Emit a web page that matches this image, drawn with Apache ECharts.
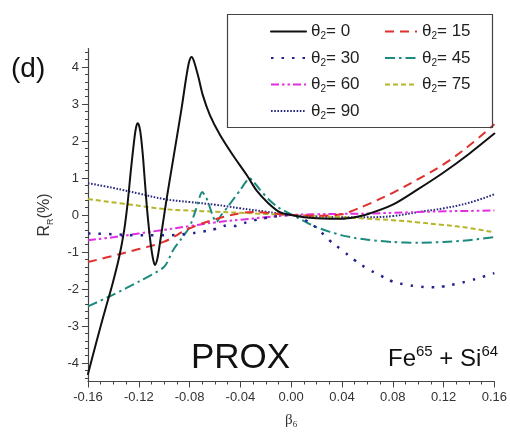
<!DOCTYPE html>
<html>
<head>
<meta charset="utf-8">
<script src="https://cdn.jsdelivr.net/npm/echarts@6/dist/echarts.min.js"></script>
<style>html,body{margin:0;padding:0;background:#fff;}#c{width:510px;height:437px;}</style>
</head>
<body>
<div id="c"></div>
<script>
// ---- data ----
var thetaLabels = ['0', '15', '30', '45', '60', '75', '90'];
var xTicks = [-0.16, -0.12, -0.08, -0.04, 0.00, 0.04, 0.08, 0.12, 0.16];
var yTicks = [-4, -3, -2, -1, 0, 1, 2, 3, 4];

var theta0X = [-0.16,-0.1537,-0.1458,-0.1406,-0.1354,-0.1315,-0.1288,-0.1262,-0.1236,-0.1222,-0.1209,-0.1195,-0.1182,-0.1165,-0.1139,-0.1113,-0.109,-0.1073,-0.1055,-0.1034,-0.0982,-0.093,-0.0865,-0.0825,-0.0803,-0.0784,-0.0765,-0.073,-0.0696,-0.064,-0.056,-0.046,-0.035,-0.027,-0.018,-0.009,0,0.01,0.02,0.03,0.04,0.05,0.06,0.08,0.1,0.12,0.14,0.16];
var theta0Y = [-4.3,-3.47,-2.48,-1.85,-1.13,-0.41,0.32,1.22,2.03,2.36,2.48,2.38,2.1,1.49,0.32,-0.59,-1.15,-1.35,-1.2,-0.77,0.41,1.49,2.84,3.75,4.15,4.27,4.15,3.72,3.24,2.7,2.16,1.62,1.08,0.65,0.32,0.08,0,-0.06,-0.09,-0.1,-0.1,-0.06,0.02,0.28,0.7,1.15,1.65,2.2];

var theta15X = [-0.16,-0.14,-0.12,-0.1,-0.08,-0.06,-0.04,-0.03,-0.02,0,0.02,0.04,0.05,0.06,0.08,0.1,0.12,0.14,0.16];
var theta15Y = [-1.27,-1.1,-0.92,-0.72,-0.36,-0.12,0.05,0.08,0.06,0,-0.02,0.02,0.14,0.28,0.6,0.97,1.37,1.87,2.45];

var theta30X = [-0.16,-0.14,-0.12,-0.1,-0.08,-0.07,-0.06,-0.055,-0.05,-0.045,-0.04,-0.03,-0.02,-0.01,0,0.01,0.02,0.03,0.04,0.05,0.06,0.07,0.08,0.09,0.1,0.11,0.12,0.13,0.14,0.15,0.16];
var theta30Y = [-0.5,-0.52,-0.55,-0.55,-0.5,-0.45,-0.38,-0.32,-0.28,-0.3,-0.25,-0.15,-0.08,-0.03,0,-0.12,-0.35,-0.68,-0.95,-1.22,-1.45,-1.63,-1.8,-1.88,-1.93,-1.95,-1.93,-1.86,-1.78,-1.68,-1.57];

var theta45X = [-0.16,-0.14,-0.12,-0.1,-0.093,-0.086,-0.08,-0.075,-0.07,-0.066,-0.062,-0.059,-0.055,-0.05,-0.045,-0.04,-0.036,-0.033,-0.03,-0.025,-0.017,-0.01,0,0.012,0.02,0.03,0.04,0.05,0.06,0.08,0.1,0.12,0.14,0.16];
var theta45Y = [-2.47,-2.15,-1.8,-1.4,-0.95,-0.62,-0.32,0.15,0.62,0.4,0.0,-0.19,0.0,0.22,0.45,0.68,0.88,1.0,0.92,0.7,0.4,0.2,0.02,-0.2,-0.33,-0.45,-0.55,-0.62,-0.67,-0.73,-0.75,-0.73,-0.68,-0.6];

var theta60X = [-0.16,-0.14,-0.12,-0.1,-0.08,-0.06,-0.04,-0.02,0,0.02,0.04,0.06,0.08,0.1,0.12,0.14,0.16];
var theta60Y = [-0.68,-0.6,-0.5,-0.4,-0.3,-0.2,-0.13,-0.06,0,0.02,0.03,0.04,0.06,0.08,0.1,0.11,0.12];

var theta75X = [-0.16,-0.12,-0.1,-0.08,-0.06,-0.04,-0.02,0,0.02,0.04,0.06,0.08,0.1,0.12,0.14,0.16];
var theta75Y = [0.43,0.25,0.16,0.12,0.09,0.06,0.03,0,-0.03,-0.06,-0.1,-0.14,-0.2,-0.27,-0.35,-0.47];

var theta90X = [-0.16,-0.14,-0.12,-0.1,-0.08,-0.06,-0.04,-0.02,0,0.02,0.04,0.06,0.08,0.1,0.12,0.14,0.16];
var theta90Y = [0.86,0.73,0.58,0.43,0.35,0.28,0.18,0.09,0,-0.04,-0.06,-0.06,-0.03,0.08,0.18,0.33,0.56];

// ---- build ----
function pairs(xs, ys) { return xs.map(function (x, i) { return [x, ys[i]]; }); }
var seriesX = [theta0X, theta15X, theta30X, theta45X, theta60X, theta75X, theta90X];
var seriesY = [theta0Y, theta15Y, theta30Y, theta45Y, theta60Y, theta75Y, theta90Y];
var styles = [
  { color: '#111111', type: 'solid', width: 2, cap: 'round' },
  { color: '#e0302c', type: [9, 6], width: 2, cap: 'butt' },
  { color: '#22228c', type: [2.5, 8], width: 2.5, cap: 'butt' },
  { color: '#1d8a80', type: [10, 4, 2.5, 4], width: 2, cap: 'butt' },
  { color: '#e22ee2', type: [8, 3, 2.5, 3, 2.5, 3], width: 2, cap: 'butt' },
  { color: '#b5b52a', type: [5, 3], width: 2, cap: 'butt' },
  { color: '#2a2a80', type: [1.6, 1.6], width: 2, cap: 'butt' }
];
var smoothness = [0.3, 0.4, 0.4, 0.25, 0.4, 0.4, 0.4];

var series = thetaLabels.map(function (t, i) {
  return {
    name: 'theta' + t,
    type: 'line',
    data: pairs(seriesX[i], seriesY[i]),
    showSymbol: false,
    symbol: 'none',
    smooth: smoothness[i],
    lineStyle: { color: styles[i].color, type: styles[i].type, width: styles[i].width, cap: styles[i].cap, join: 'round' },
    itemStyle: { color: styles[i].color },
    z: 10 - i
  };
});

var yMinor = [];
for (var v = -44; v <= 44; v += 2) { yMinor.push(v / 10); }

function legendFmt(name) {
  return '{t|θ}{s|2}{t|= ' + name.replace('theta', '') + '}';
}
var legendText = {
  color: '#222',
  rich: {
    t: { fontSize: 17, fontFamily: 'Liberation Sans', color: '#222', lineHeight: 20 },
    s: { fontSize: 10, fontFamily: 'Liberation Sans', color: '#222', lineHeight: 20, verticalAlign: 'bottom' }
  }
};
var legendItemStyle = { opacity: 0, color: 'transparent', borderWidth: 0 };

var chart = echarts.init(document.getElementById('c'), null, { renderer: 'canvas' });
chart.setOption({
  animation: false,
  backgroundColor: '#fff',
  grid: { left: 88, right: 14, top: 48.5, bottom: 55.5 },
  xAxis: {
    type: 'value', min: -0.16, max: 0.16, interval: 0.04,
    axisLine: { onZero: false, lineStyle: { color: '#444', width: 1.2 } },
    axisTick: { inside: false, length: 6, lineStyle: { color: '#444' } },
    minorTick: { show: true, splitNumber: 4, length: 3, lineStyle: { color: '#444' } },
    splitLine: { show: false },
    axisLabel: { margin: 9, fontSize: 13, fontFamily: 'Liberation Sans', color: '#333',
      formatter: function (v) { return v.toFixed(2); } },
    name: '{b|β}{s|6}', nameLocation: 'middle', nameGap: 30,
    nameTextStyle: { rich: {
      b: { fontSize: 15, fontFamily: 'Liberation Serif', color: '#333', lineHeight: 18 },
      s: { fontSize: 9, fontFamily: 'Liberation Serif', color: '#333', lineHeight: 18, verticalAlign: 'bottom' }
    } }
  },
  yAxis: [{
    type: 'value', min: -4.5, max: 4.5,
    axisLine: { show: true, onZero: false, lineStyle: { color: '#444', width: 1.2 } },
    axisTick: { show: true, inside: false, length: 6, lineStyle: { color: '#444' }, customValues: yTicks },
    splitLine: { show: false },
    axisLabel: { margin: 9, fontSize: 13, fontFamily: 'Liberation Sans', color: '#333', customValues: yTicks,
      formatter: function (v) { return String(Math.round(v)); } },
    name: '{t|R}{s|R}{t|(%)}', nameLocation: 'middle', nameGap: 33,
    nameTextStyle: { rich: {
      t: { fontSize: 16, fontFamily: 'Liberation Sans', color: '#333', lineHeight: 20 },
      s: { fontSize: 9, fontFamily: 'Liberation Sans', color: '#333', lineHeight: 20, verticalAlign: 'bottom' }
    } }
  }, {
    type: 'value', min: -4.5, max: 4.5, position: 'left',
    axisLine: { show: false, onZero: false },
    axisTick: { show: true, inside: false, length: 3, lineStyle: { color: '#444' }, customValues: yMinor },
    axisLabel: { show: false },
    splitLine: { show: false }
  }],
  legend: [{
    orient: 'vertical', left: 270, top: 23, padding: 0,
    itemWidth: 35, itemHeight: 20, itemGap: 8,
    itemStyle: legendItemStyle,
    data: ['theta0', 'theta30', 'theta60', 'theta90'],
    formatter: legendFmt, textStyle: legendText
  }, {
    orient: 'vertical', left: 384, top: 23, padding: 0,
    itemWidth: 32, itemHeight: 20, itemGap: 8,
    itemStyle: legendItemStyle,
    data: ['theta15', 'theta45', 'theta75'],
    formatter: legendFmt, textStyle: legendText
  }],
  graphic: [
    { type: 'rect', left: 225, top: 12, shape: { width: 265, height: 113 },
      style: { fill: 'none', stroke: '#444', lineWidth: 1.2 }, z: 100 },
    { type: 'text', left: 11, top: 55, style: { text: '(d)', fontSize: 28, fontFamily: 'Liberation Sans', fill: '#111' } },
    { type: 'text', left: 191, top: 341, style: { text: 'PROX', fontSize: 35, fontFamily: 'Liberation Sans', fill: '#111' } },
    { type: 'text', left: 388, top: 344, style: {
      text: '{m|Fe}{p|65}{m| + Si}{p|64}',
      rich: {
        m: { fontSize: 24, fontFamily: 'Liberation Sans', fill: '#111', color: '#111', lineHeight: 30 },
        p: { fontSize: 15, fontFamily: 'Liberation Sans', fill: '#111', color: '#111', lineHeight: 30, verticalAlign: 'top' }
      } } }
  ],
  series: series
});
</script>
</body>
</html>
